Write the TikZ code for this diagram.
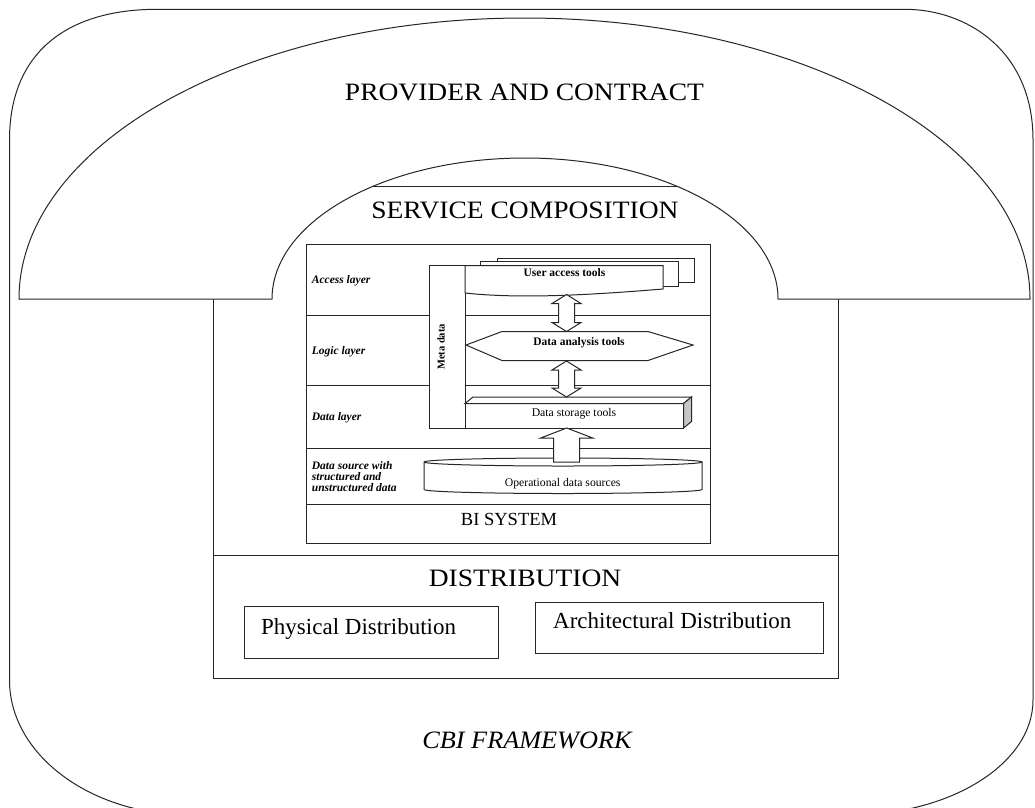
\documentclass[tikz,border=0pt]{standalone}
\usepackage{fontspec}
\setmainfont{Liberation Serif}
\newfontfamily\widefont[FakeStretch=1.1]{Liberation Serif}
\newfontfamily\wideitfont[FakeStretch=1.05]{Liberation Serif}

% vertical two-way block arrow centred on the current origin, #1 = half length
\newcommand\twowayarrow[1]{%
  \draw[blockarrow] (0,-#1) -- (14.5,{9-#1}) -- (8,{9-#1}) -- (8,{#1-9})
    -- (14.5,{#1-9}) -- (0,#1) -- (-14.5,{#1-9}) -- (-8,{#1-9})
    -- (-8,{9-#1}) -- (-14.5,{9-#1}) -- cycle;}

\begin{document}
\begin{tikzpicture}[x=1pt,y=-1pt,
  frame/.style={draw=black!85, line width=1pt},
  blockarrow/.style={frame, fill=white, line join=miter},
  bigtitle/.style={font=\widefont\fontsize{25}{30}\selectfont, inner sep=0pt},
  subtitle/.style={font=\fontsize{23}{27}\selectfont, inner sep=0pt},
  layerlbl/.style={font=\bfseries\itshape\fontsize{11.5}{11}\selectfont, inner sep=0pt, align=left},
  toollbl/.style={font=\fontsize{11.7}{13}\selectfont, inner sep=0pt},
  boldtool/.style={font=\bfseries\fontsize{11.5}{13}\selectfont, inner sep=0pt},
]
\useasboundingbox (0,0) rectangle (1035,807);
\clip (0,0) rectangle (1035,807);
\fill[white] (0,0) rectangle (1035,807);

% outer CBI framework outline
\draw[frame] (9.5,140) .. controls (9.5,50) and (70,9.3) .. (157,9.3)
  -- (905,9.3) .. controls (966,9.3) and (1033,50) .. (1033,140)
  -- (1033,700) arc[start angle=0, end angle=90, x radius=183, y radius=115]
  -- (190,815) arc[start angle=90, end angle=180, x radius=180.5, y radius=135]
  -- cycle;

% service composition / distribution box
\draw[frame] (213,186) rectangle (838,678);
\draw[frame] (213,555) -- (838,555);

% provider and contract band
\draw[frame, fill=white] (19,299)
  arc[start angle=180, end angle=360, x radius=505.5, y radius=281]
  -- (778,299)
  arc[start angle=0, end angle=-180, x radius=253, y radius=141]
  -- cycle;

% BI system block with its layers
\draw[frame] (306,244) rectangle (710,543);
\draw[frame] (306,315) -- (710,315);
\draw[frame] (306,385) -- (710,385);
\draw[frame] (306,448) -- (710,448);
\draw[frame] (306,504) -- (710,504);

% metadata column
\draw[frame, fill=white] (429,265.5) rectangle (465,428.3);

% stacked user access tools
\draw[frame, fill=white] (497,258) rectangle (694.5,282.5);
\draw[frame, fill=white] (480.5,261.5) rectangle (678,286);
\draw[frame, fill=white] (465,265.5) -- (663,265.5) -- (663,289)
  .. controls (590,295) and (520,299) .. (465,293) -- cycle;

% data analysis hexagon
\draw[frame, fill=white] (466,345) -- (502,331.5) -- (648,331.5) -- (693,345)
  -- (648,360.5) -- (502,360.5) -- cycle;

% data storage bar
\draw[frame, fill=white] (465,403.5) rectangle (683.5,428);
\draw[frame, fill=white] (465,403.5) -- (473,397) -- (691.5,397) -- (683.5,403.5) -- cycle;
\draw[frame, fill=gray!45] (683.5,403.5) -- (691.5,397) -- (691.5,421.5) -- (683.5,428) -- cycle;

% operational data sources cylinder
\draw[frame, fill=white] (424,462) -- (424,489.5)
  arc[start angle=180, end angle=0, x radius=139, y radius=4]
  -- (702,462)
  arc[start angle=0, end angle=-180, x radius=139, y radius=4] -- cycle;
\draw[frame] (424,462) arc[start angle=180, end angle=0, x radius=139, y radius=4];

% flow arrows
\begin{scope}[shift={(566.5,313)}] \twowayarrow{18.5} \end{scope}
\begin{scope}[shift={(566.5,379)}] \twowayarrow{18} \end{scope}
\draw[blockarrow] (566.7,428) -- (592.7,438) -- (579.7,438) -- (579.7,462)
  -- (553.7,462) -- (553.7,438) -- (540.7,438) -- cycle;

% distribution boxes
\node (phys) [frame, anchor=north west, minimum width=254.4pt, minimum height=51.7pt, inner sep=0pt] at (243.6,606) {};
\node (arch) [frame, anchor=north west, minimum width=288pt, minimum height=51.3pt, inner sep=0pt] at (535,601.7) {};

% labels
\node (provider) [bigtitle, anchor=base] at (524.5,100) {PROVIDER AND CONTRACT};
\node (service) [bigtitle, anchor=base] at (525,218) {SERVICE COMPOSITION};
\node (distrib) [bigtitle, anchor=base] at (525,586) {DISTRIBUTION};
\node (cbi) [font=\wideitfont\itshape\fontsize{25}{30}\selectfont, inner sep=0pt, anchor=base] at (527,748) {CBI FRAMEWORK};
\node (physlbl) [subtitle, anchor=base west] at (261,634) {Physical Distribution};
\node (archlbl) [subtitle, anchor=base west] at (553,628) {Architectural Distribution};
\node (bisys) [font=\fontsize{18.5}{22}\selectfont, inner sep=0pt, anchor=base] at (509,525.7) {BI SYSTEM};

\node (access) [layerlbl, anchor=base west] at (311.7,283) {Access layer};
\node (logic) [layerlbl, anchor=base west] at (311.7,354) {Logic layer};
\node (datal) [layerlbl, anchor=base west] at (311.7,420) {Data layer};
\node (source) [layerlbl, anchor=west] at (311.7,477) {Data source with\\structured and\\unstructured data};

\node (meta) [boldtool, font=\bfseries\fontsize{10.5}{12}\selectfont, rotate=90] at (441,347) {Meta data};
\node (uat) [boldtool, anchor=base] at (564.5,276.7) {User access tools};
\node (dat) [boldtool, anchor=base] at (579,345) {Data analysis tools};
\node (dst) [toollbl, anchor=base] at (574,416) {Data storage tools};
\node (ods) [toollbl, anchor=base] at (562.7,486.7) {Operational data sources};
\end{tikzpicture}
\end{document}
